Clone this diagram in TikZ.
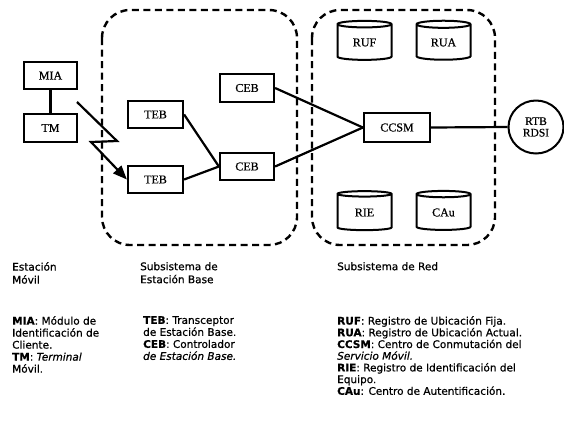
\documentclass[tikz,border=0pt]{standalone}
\usepackage{fontspec}
\setmainfont{Liberation Serif}[FakeBold=0.6]
\newfontfamily\descfont{DejaVu Sans}[FakeBold=0.7]
\usetikzlibrary{arrows.meta,shapes.geometric}
\begin{document}
\begin{tikzpicture}[x=1pt,y=-1pt,
  box/.style={draw,line width=2.2pt,rectangle,inner sep=0pt,font=\fontsize{12}{13}\selectfont},
  dbase/.style={draw,line width=2pt,cylinder,shape border rotate=90,aspect=0.28,inner sep=0pt,minimum width=54pt,minimum height=39pt,font=\fontsize{12}{13}\selectfont},
  link/.style={line width=2.2pt},
  zone/.style={line width=2.4pt,dash pattern=on 7pt off 4.5pt,rounded corners=28pt},
  lbl/.style={anchor=north west,inner sep=0pt,align=left},
]
\useasboundingbox (0,0) rectangle (564,429);
% zones
\draw[zone] (102,10) rectangle (297,245);
\draw[zone] (312,10) rectangle (495,245);
% mobile station
\node[box,minimum width=53pt,minimum height=27pt] (mia) at (50.5,75.5) {MIA};
\node[box,minimum width=53pt,minimum height=28pt] (tm) at (50.5,128) {TM};
% base station subsystem
\node[box,minimum width=55pt,minimum height=27pt] (teb1) at (155.5,114.5) {TEB};
\node[box,minimum width=55pt,minimum height=27pt] (teb2) at (155.5,179.5) {TEB};
\node[box,minimum width=54pt,minimum height=28pt] (ceb1) at (247,88) {CEB};
\node[box,minimum width=54pt,minimum height=27pt] (ceb2) at (247,166.5) {CEB};
% network subsystem
\node[box,minimum width=66pt,minimum height=29pt] (ccsm) at (397,127.5) {CCSM};
\node[dbase] (ruf) at (364.5,42.5) {RUF};
\node[dbase] (rua) at (443.5,42.5) {RUA};
\node[dbase] (rie) at (364.5,212.5) {RIE};
\node[dbase] (cau) at (443.5,212.5) {CAu};
\node[draw,line width=2pt,ellipse,minimum width=55pt,minimum height=53pt,inner sep=0pt,align=center,font=\fontsize{11.5}{11.5}\selectfont] (rtb) at (536,127) {RTB\\RDSI};
% connectors
\draw[link] (mia) -- (tm);
\coordinate (r1) at (77,102);
\coordinate (r2) at (117,141);
\coordinate (r3) at (91,142);
\draw[link,-{Triangle[length=14pt,width=11pt]}] (r1) -- (r2) -- (r3) -- (teb2.west);
\draw[link] (teb1.east) -- (ceb2.west);
\draw[link] (teb2.east) -- (ceb2.west);
\draw[link] (ceb1.east) -- (ccsm.west);
\draw[link] (ceb2.east) -- (ccsm.west);
\draw[link] (ccsm.east) -- (rtb.west);
% legends
\begin{scope}[every node/.style={lbl}]
\node[font=\descfont\fontsize{10.5}{13}\selectfont] (t1) at (12,262) {Estación\\Móvil};
\node[font=\descfont\fontsize{10.5}{13}\selectfont] (t2) at (140,262) {Subsistema de\\Estación Base};
\node[font=\descfont\fontsize{10.5}{13}\selectfont] (t3) at (337,262) {Subsistema de Red};
\node[font=\descfont\fontsize{10.5}{12}\selectfont] (d1) at (12,316) {\textbf{MIA}: Módulo de\\Identificación de\\Cliente.\\\textbf{TM}: \textit{Terminal}\\Móvil.};
\node[font=\descfont\fontsize{10.5}{12}\selectfont] (d2) at (143,316) {\textbf{TEB}: Transceptor\\de Estación Base.\\\textbf{CEB}: Controlador\\\textit{de Estación Base.}};
\node[font=\descfont\fontsize{10.5}{11.7}\selectfont] (d3) at (337,316) {\textbf{RUF}: Registro de Ubicación Fija.\\\textbf{RUA}: Registro de Ubicación Actual.\\\textbf{CCSM}: Centro de Conmutación del\\\textit{Servicio Móvil.}\\\textbf{RIE}: Registro de Identificación del\\Equipo.\\\textbf{CAu}: Centro de Autentificación.};
\end{scope}
\end{tikzpicture}
\end{document}
